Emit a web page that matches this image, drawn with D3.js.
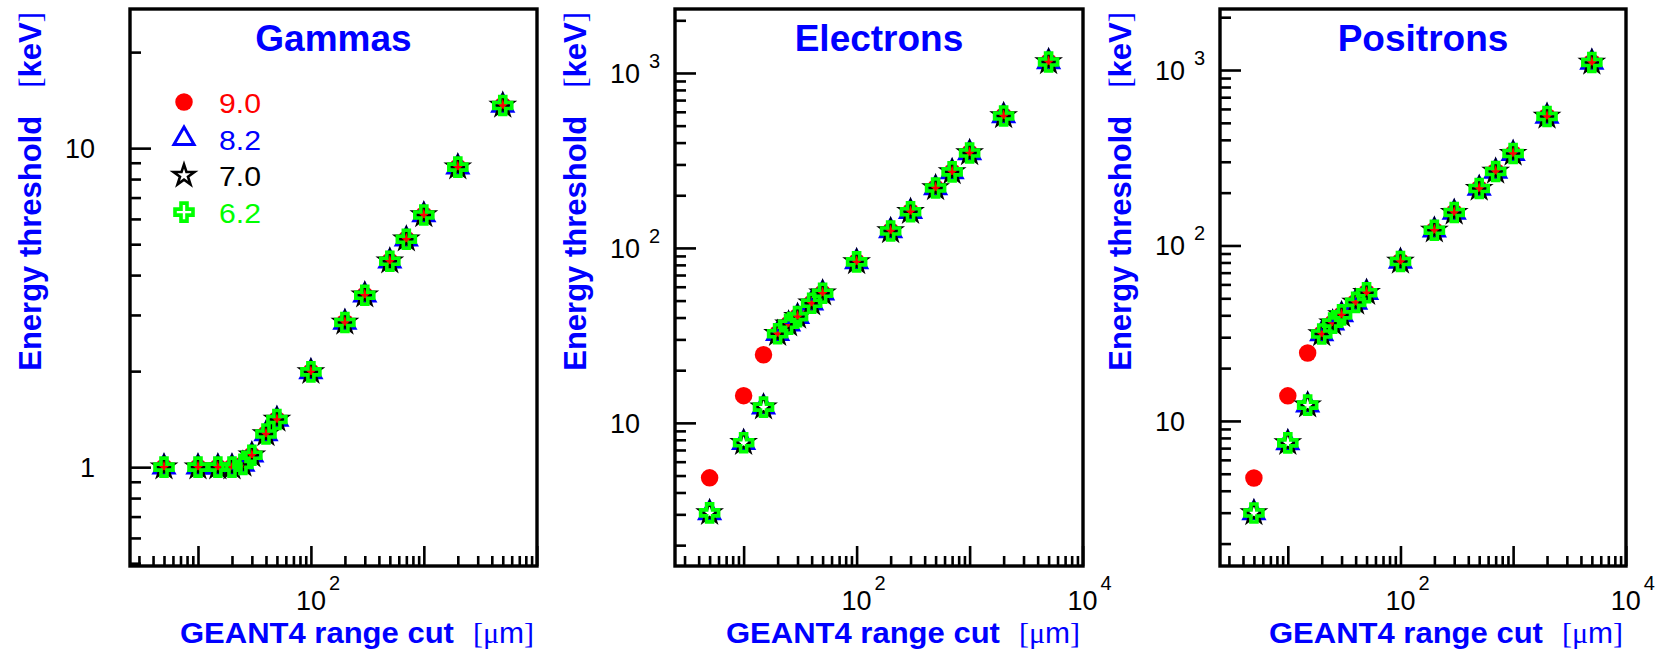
<!DOCTYPE html>
<html>
<head>
<meta charset="utf-8">
<script src="https://cdn.jsdelivr.net/npm/d3@7"></script>
<style>
body { margin: 0; background: #fff; }
svg { display: block; font-family: "Liberation Sans", Arial, Helvetica, sans-serif; }
</style>
</head>
<body>
<script>
// values
var rangeCuts = [5, 10, 15, 20, 25, 30, 40, 50, 100, 200, 300, 500, 700, 1000, 2000, 5000];
var versions = ["9.0", "8.2", "7.0", "6.2"];
var versionColors = ["#ff0000", "#0000ff", "#000000", "#00ff00"];

var gammaThr = [1.0, 1.0, 1.0, 1.0, 1.02, 1.09, 1.27, 1.41, 1.99, 2.84, 3.46, 4.42, 5.18, 6.17, 8.72, 13.6];
var electronThr = [3.06, 7.7, 12.3, 32.3, 36.6, 40.5, 48.3, 55.1, 83.2, 125, 161, 220, 272, 349, 568, 1156];
var electronThr90 = [4.85, 14.3, 24.5, 32.3, 36.6, 40.5, 48.3, 55.1, 83.2, 125, 161, 220, 272, 349, 568, 1156];
var positronThr = [2.99, 7.5, 12.3, 31.3, 36.1, 40.2, 47.4, 53.8, 81, 122, 154, 211, 264, 334, 543, 1104];
var positronThr90 = [4.73, 13.9, 24.4, 31.3, 36.1, 40.2, 47.4, 53.8, 81, 122, 154, 211, 264, 334, 543, 1104];

var panelTitles = ["Gammas", "Electrons", "Positrons"];
var xTickLabels = [[100], [100, 10000], [100, 10000]];
var yTickLabels = [[1, 10], [10, 100, 1000], [10, 100, 1000]];

// one list per panel, one entry per version (9.0, 8.2, 7.0, 6.2)
var panelSeries = [
    [gammaThr, gammaThr, gammaThr, gammaThr],
    [electronThr90, electronThr, electronThr, electronThr],
    [positronThr90, positronThr, positronThr, positronThr]
];

window.onload = function(){
    var width = 1662,
        height = 652;

    var svg = d3.select("body")
        .append("svg")
        .attr("width", width)
        .attr("height", height);

    var frames = [
        { x0: 130, x1: 537, y0: 9, y1: 566, xdom: [2.5, 10050], ydom: [0.49, 27.3] },
        { x0: 675, x1: 1083, y0: 9, y1: 566, xdom: [2.47, 10080], ydom: [1.52, 2321] },
        { x0: 1220, x1: 1626, y0: 9, y1: 566, xdom: [2.5, 10050], ydom: [1.49, 2227] }
    ];

    var blue = "#0000ff";

    // marker shapes, roughly ROOT styles 20, 26, 30, 28
    var shapes = [
        { type: d3.symbolCircle, size: 240, fill: true, sw: 0 },
        { type: d3.symbolTriangle, size: 175, fill: false, sw: 3 },
        { type: d3.symbolStar, size: 135, fill: false, sw: 2.6 },
        { type: d3.symbolCross, size: 180, fill: false, sw: 3.6 }
    ];

    function drawMarker(sel, k, x, y){
        var s = shapes[k];
        sel.append("path")
            .attr("d", d3.symbol().type(s.type).size(s.size)())
            .attr("transform", "translate(" + x + "," + y + ")")
            .attr("fill", s.fill ? versionColors[k] : "none")
            .attr("stroke", s.fill ? "none" : versionColors[k])
            .attr("stroke-width", s.sw)
            .attr("stroke-linejoin", "miter");
    }

    // log ticks inside a domain
    function logTicks(dom, majors){
        var out = [];
        for (var e = -1; e <= 4; e++){
            for (var m = 1; m <= 9; m++){
                var v = m * Math.pow(10, e);
                if (v >= dom[0] * 0.999 && v <= dom[1] * 1.001){
                    if ((m === 1) === majors) out.push(v);
                }
            }
        }
        return out;
    }

    function expOf(v){ return Math.round(Math.log10(v)); }

    frames.forEach(function(f, p){
        var g = svg.append("g");

        var x = d3.scaleLog().domain(f.xdom).range([f.x0, f.x1]);
        var y = d3.scaleLog().domain(f.ydom).range([f.y1, f.y0]);

        // ticks (pointing inwards)
        [[true, -20], [false, -10]].forEach(function(t){
            var ax = g.append("g").attr("transform", "translate(0," + f.y1 + ")")
                .call(d3.axisBottom(x).tickValues(logTicks(f.xdom, t[0])).tickSize(t[1]).tickFormat(""));
            ax.select(".domain").remove();
            ax.selectAll("line").attr("stroke", "#000").attr("stroke-width", 2.6);
        });
        [[true, -21], [false, -11]].forEach(function(t){
            var ax = g.append("g").attr("transform", "translate(" + f.x0 + ",0)")
                .call(d3.axisLeft(y).tickValues(logTicks(f.ydom, t[0])).tickSize(t[1]).tickFormat(""));
            ax.select(".domain").remove();
            ax.selectAll("line").attr("stroke", "#000").attr("stroke-width", 2.6);
        });

        // frame
        g.append("rect")
            .attr("x", f.x0).attr("y", f.y0)
            .attr("width", f.x1 - f.x0).attr("height", f.y1 - f.y0)
            .attr("fill", "none").attr("stroke", "#000").attr("stroke-width", 3.4);

        // y tick labels
        yTickLabels[p].forEach(function(v){
            var yy = y(v);
            g.append("text")
                .attr("x", f.x0 - 35).attr("y", yy + 10)
                .attr("text-anchor", "end")
                .attr("font-size", 27)
                .text(v < 100 ? String(v) : "10");
            if (v >= 100){
                g.append("text")
                    .attr("x", f.x0 - 26).attr("y", yy - 5)
                    .attr("font-size", 20)
                    .text(expOf(v));
            }
        });

        // x tick labels
        xTickLabels[p].forEach(function(v){
            var xx = x(v);
            g.append("text")
                .attr("x", xx).attr("y", 610)
                .attr("text-anchor", "middle")
                .attr("font-size", 27)
                .text("10");
            g.append("text")
                .attr("x", xx + 18).attr("y", 590)
                .attr("font-size", 20)
                .text(expOf(v));
        });

        // points: 9.0, 8.2, 7.0, 6.2 drawn in that order
        var pts = g.append("g");
        panelSeries[p].forEach(function(vals, k){
            vals.forEach(function(v, i){
                drawMarker(pts, k, x(rangeCuts[i]), y(v));
            });
        });

        // title
        g.append("text")
            .attr("x", (f.x0 + f.x1) / 2).attr("y", 51)
            .attr("text-anchor", "middle")
            .attr("font-size", 37).attr("font-weight", "bold")
            .attr("fill", blue)
            .text(panelTitles[p]);

        // y title
        var yt = g.append("text")
            .attr("transform", "translate(" + (f.x0 - 89) + ",12) rotate(-90)")
            .attr("text-anchor", "end")
            .attr("font-size", 31)
            .attr("fill", blue);
        yt.append("tspan").attr("font-weight", "bold").text("Energy threshold");
        yt.append("tspan").attr("dx", 28).attr("font-family", "Liberation Serif, serif").text("[");
        yt.append("tspan").attr("font-weight", "bold").text("keV");
        yt.append("tspan").attr("font-family", "Liberation Serif, serif").text("]");

        // x title: unit first, then the bold part placed left of it
        var unit = g.append("text")
            .attr("x", f.x1 - 3).attr("y", 643)
            .attr("text-anchor", "end")
            .attr("font-size", 30)
            .attr("fill", blue);
        unit.append("tspan").attr("font-family", "Liberation Serif, serif").text("[\u03bc");
        unit.append("tspan").text("m");
        unit.append("tspan").attr("font-family", "Liberation Serif, serif").text("]");
        var unitStart = f.x1 - 3 - unit.node().getComputedTextLength();
        g.append("text")
            .attr("x", unitStart - 19).attr("y", 643)
            .attr("text-anchor", "end")
            .attr("font-size", 29).attr("font-weight", "bold")
            .attr("textLength", 274).attr("lengthAdjust", "spacingAndGlyphs")
            .attr("fill", blue)
            .text("GEANT4 range cut");

        // legend only in the first panel
        if (p === 0){
            versions.forEach(function(v, k){
                var base = 112 + k * 36.7;
                drawMarker(g, k, f.x0 + 54, base - 10);
                g.append("text")
                    .attr("x", f.x0 + 89).attr("y", base + 1)
                    .attr("font-size", 27)
                    .attr("textLength", 42).attr("lengthAdjust", "spacingAndGlyphs")
                    .attr("fill", versionColors[k])
                    .text(v);
            });
        }
    });
};
</script>
</body>
</html>
